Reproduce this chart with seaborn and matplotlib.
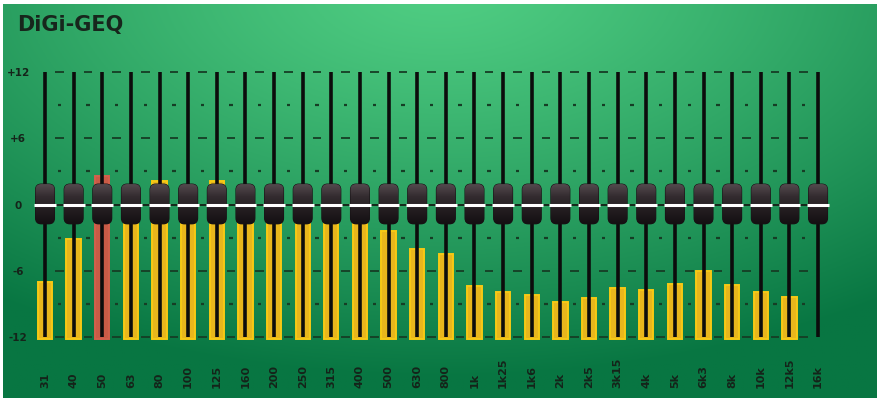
import numpy as np
import pandas as pd
import seaborn as sns
import matplotlib.pyplot as plt
from matplotlib.colors import LinearSegmentedColormap
from matplotlib.patches import FancyBboxPatch
import matplotlib.transforms as mtransforms

# band centre frequencies (labels as printed on the unit)
bands = ['31', '40', '50', '63', '80', '100', '125', '160', '200', '250', '315', '400',
         '500', '630', '800', '1k', '1k25', '1k6', '2k', '2k5', '3k15', '4k', '5k',
         '6k3', '8k', '10k', '12k5', '16k']
# level meter per band in dB (16k shows no bar)
levels = [-7.0, -3.1, 2.6, 1.5, 2.1, 1.5, 2.1, 1.5, 1.5, 1.5, 1.5, 1.5,
          -2.4, -4.0, -4.5, -7.4, -7.9, -8.2, -8.8, -8.5, -7.6, -7.7, -7.2,
          -6.0, -7.3, -7.9, -8.4, np.nan]
# fader positions (gain, dB)
gains = [0.0] * len(bands)
selected = '50'
yticks = [12, 6, 0, -6, -12]
ytick_labels = ['+12', '+6', '0', '-6', '-12']
minor_marks = [9, 3, -3, -9]
floor = -12.2

df = pd.DataFrame({'band': bands, 'level': levels, 'gain': gains})
df['height'] = df['level'] - floor
pos = np.arange(len(bands))

sns.set_theme(style='white')
plt.rcParams['font.family'] = ['DejaVu Sans']

fig = plt.figure(figsize=(8.78, 4.04), dpi=100, facecolor='white')

# green panel with soft light spot at the top
bg = fig.add_axes([3 / 878, 6 / 404, 1 - 3 / 878, 1 - 10 / 404], zorder=-1)
u, v = np.meshgrid(np.linspace(0, 1, 400), np.linspace(0, 1, 200))
d = np.clip(np.sqrt(((u - 0.5) / 0.85) ** 2 + ((v + 0.05) / 1.0) ** 2), 0, 1)
light = np.array([80, 206, 131]) / 255
dark = np.array([8, 118, 66]) / 255
img = light[None, None, :] * (1 - d[..., None] ** 1.2) + dark[None, None, :] * d[..., None] ** 1.2
bg.imshow(img, aspect='auto', extent=[0, 1, 0, 1])
bg.axis('off')

ax = fig.add_axes([0.0317, 0.1386, 0.9196, 0.7104])
ax.set_facecolor('none')

# level bars
palette = {b: ('#c95b46' if b == selected else '#e8b61c') for b in bands}
sns.barplot(data=df, x='band', y='height', hue='band', palette=palette, order=bands,
            bottom=floor, width=0.5, errorbar=None, legend=False, saturation=1,
            edgecolor='#f7c914', linewidth=1.4, ax=ax, zorder=2)
for b, p in zip(bands, ax.patches):
    if b == selected:
        p.set_edgecolor('#d4604c')

# scale marks between the faders
gaps = pos[:-1] + 0.5
dash_col = '#163d25'
for y in [12, 6, -6, -12]:
    ax.hlines([y] * len(gaps), gaps - 0.15, gaps + 0.15, color=dash_col, lw=1.3, zorder=1)
for y in minor_marks:
    ax.hlines([y] * len(gaps), gaps - 0.06, gaps + 0.06, color=dash_col, lw=1.6, zorder=1)
ax.hlines(0, -0.35, pos[-1] + 0.35, color='#15281b', lw=1.4, zorder=3)

# fader tracks
ax.vlines(pos, -12, 12, color='#0c0c0c', lw=2.6, zorder=3)

# fader knobs
knob_cmap = LinearSegmentedColormap.from_list('knob', ['#564c50', '#332b2f', '#231d20', '#141012'])
grad = np.linspace(0, 1, 64).reshape(-1, 1)
for i, g in zip(pos, df['gain']):
    box = FancyBboxPatch((i - 0.33, g - 1.75), 0.66, 3.6,
                         boxstyle='round,pad=0,rounding_size=0.2', mutation_aspect=2.59,
                         fc='#2a2327', ec='#161214', lw=0.8, zorder=5)
    ax.add_patch(box)
    im = ax.imshow(grad, extent=[i - 0.35, i + 0.35, g - 1.8, g + 1.9], cmap=knob_cmap,
                   aspect='auto', zorder=5.5, origin='upper')
    im.set_clip_path(box)
    ax.hlines(g, i - 0.38, i + 0.38, color='white', lw=2.2, zorder=6)

ax.set_xlim(-0.6, len(bands) - 0.4)
ax.set_ylim(-13, 13)
ax.set_xlabel('')
ax.set_ylabel('')
ax.set_xticks([])
ax.set_yticks(yticks)
ax.set_yticklabels(ytick_labels, fontsize=7.5, fontweight='bold', color='#15241a')
ax.tick_params(axis='y', length=0, pad=7)
for lbl in ax.get_yticklabels():
    lbl.set_ha('center')
sns.despine(ax=ax, left=True, bottom=True)

# band labels, rotated, starting from a common baseline
trans = mtransforms.blended_transform_factory(ax.transData, ax.transAxes)
for i, b in zip(pos, bands):
    ax.text(i, -0.139, b, transform=trans, rotation=90, ha='center', va='bottom',
            fontsize=8, fontweight='bold', color='#15241a')

fig.text(17 / 878, 1 - 15 / 404, 'DiGi-GEQ', ha='left', va='top', fontsize=15,
         fontweight='bold', color='#17261c')

fig.savefig('out.png', dpi=100, facecolor='white')
